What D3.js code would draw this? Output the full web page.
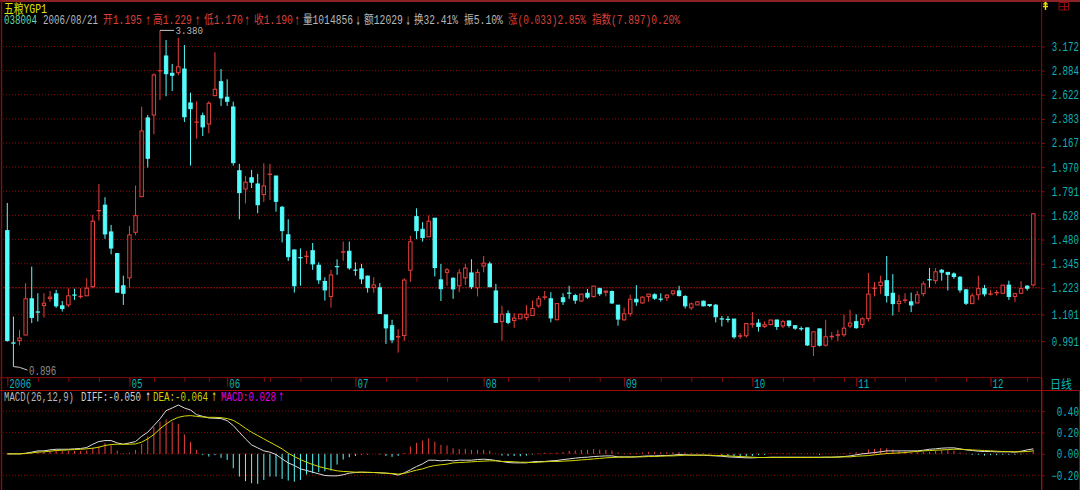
<!DOCTYPE html>
<html>
<head>
<meta charset="utf-8">
<title>五粮YGP1</title>
<script src="https://cdn.jsdelivr.net/npm/d3@7"></script>
<style>
    html, body { margin: 0; padding: 0; background: #000; overflow: hidden; }
    svg { display: block; }
    text { font-family: "Liberation Mono", "Noto Sans CJK SC", monospace; }
</style>
</head>
<body>
<script>
// 日线 open / high / low / close
const openPrice = [
    1.533,0.984,0.993,1.015,1.171,1.112,1.140,1.172,1.194,1.139,
    1.143,1.189,1.181,1.185,1.229,1.658,1.695,1.525,1.400,1.233,
    1.272,1.523,1.753,2.392,2.420,2.881,3.055,2.853,2.860,2.902,
    2.538,2.352,2.413,2.335,2.612,2.760,2.596,2.498,1.942,1.807,
    1.889,1.843,1.767,1.914,1.902,1.681,1.508,1.420,1.378,1.384,
    1.416,1.337,1.254,1.182,1.330,1.408,1.413,1.312,1.318,1.281,
    1.224,1.223,1.099,1.053,1.007,1.013,1.311,1.620,1.541,1.496,
    1.610,1.262,1.300,1.270,1.233,1.272,1.297,1.223,1.333,1.344,
    1.208,1.070,1.104,1.075,1.082,1.088,1.096,1.139,1.178,1.171,
    1.078,1.176,1.198,1.186,1.161,1.197,1.182,1.219,1.202,1.205,
    1.142,1.078,1.104,1.169,1.152,1.182,1.190,1.170,1.176,1.195,
    1.208,1.182,1.130,1.143,1.160,1.145,1.142,1.082,1.080,1.081,
    1.010,1.012,1.059,1.064,1.050,1.058,1.077,1.052,1.073,1.053,
    1.041,1.044,0.970,1.040,0.975,1.008,1.014,1.016,1.052,1.070,
    1.058,1.083,1.220,1.234,1.258,1.197,1.149,1.164,1.157,1.152,
    1.195,1.263,1.258,1.311,1.300,1.292,1.275,1.213,1.149,1.190,
    1.219,1.192,1.199,1.197,1.236,1.182,1.197,1.231,1.237
];
const highPrice = [
    1.710,1.092,1.036,1.246,1.330,1.197,1.197,1.208,1.213,1.161,
    1.221,1.219,1.221,1.270,1.630,1.843,1.749,1.568,1.400,1.283,
    1.562,1.831,2.501,2.420,2.853,3.380,3.254,2.961,3.283,3.191,
    2.643,2.555,2.443,2.555,3.100,2.902,2.786,2.551,1.995,1.902,
    1.948,1.918,2.000,1.995,1.902,1.690,1.603,1.424,1.429,1.415,
    1.460,1.353,1.275,1.313,1.369,1.468,1.468,1.353,1.344,1.283,
    1.275,1.246,1.099,1.078,1.039,1.270,1.502,1.674,1.585,1.628,
    1.610,1.344,1.322,1.275,1.317,1.344,1.369,1.317,1.387,1.356,
    1.242,1.139,1.118,1.107,1.104,1.142,1.163,1.185,1.208,1.202,
    1.151,1.197,1.233,1.194,1.195,1.217,1.233,1.224,1.210,1.210,
    1.143,1.131,1.190,1.236,1.182,1.194,1.197,1.197,1.193,1.210,
    1.233,1.188,1.154,1.160,1.163,1.147,1.147,1.094,1.094,1.081,
    1.023,1.065,1.111,1.081,1.071,1.078,1.078,1.078,1.074,1.053,
    1.050,1.045,1.029,1.040,1.078,1.027,1.036,1.101,1.121,1.101,
    1.088,1.297,1.251,1.283,1.387,1.291,1.190,1.197,1.200,1.208,
    1.254,1.323,1.322,1.317,1.300,1.300,1.281,1.217,1.197,1.283,
    1.237,1.213,1.213,1.237,1.258,1.197,1.256,1.236,1.640
];
const lowPrice = [
    0.989,0.896,0.974,1.014,1.064,1.071,1.088,1.158,1.130,1.114,
    1.133,1.166,1.172,1.185,1.221,1.595,1.484,1.396,1.202,1.143,
    1.223,1.505,1.750,1.966,2.243,2.568,2.606,2.660,2.831,2.355,
    1.982,2.204,2.228,2.252,2.612,2.508,2.508,1.982,1.603,1.707,
    1.814,1.642,1.716,1.730,1.652,1.463,1.360,1.200,1.233,1.344,
    1.313,1.242,1.163,1.131,1.287,1.360,1.313,1.283,1.242,1.200,
    1.200,1.104,0.980,0.983,0.947,0.992,1.252,1.482,1.468,1.496,
    1.279,1.161,1.233,1.171,1.202,1.237,1.217,1.182,1.300,1.228,
    1.067,0.992,1.059,1.044,1.082,1.075,1.095,1.130,1.166,1.067,
    1.077,1.143,1.171,1.148,1.157,1.171,1.176,1.185,1.182,1.148,
    1.053,1.073,1.092,1.139,1.149,1.158,1.166,1.158,1.161,1.186,
    1.182,1.127,1.121,1.142,1.137,1.134,1.067,1.050,1.067,1.000,
    1.000,1.005,1.045,1.029,1.044,1.054,1.036,1.043,1.045,1.036,
    1.032,0.972,0.934,0.970,0.970,0.996,0.991,1.008,1.043,1.040,
    1.044,1.071,1.182,1.193,1.154,1.096,1.111,1.151,1.111,1.151,
    1.182,1.224,1.242,1.258,1.210,1.267,1.200,1.143,1.148,1.166,
    1.182,1.186,1.186,1.195,1.166,1.157,1.194,1.210,1.229
];
const closePrice = [
    0.993,0.983,1.003,1.171,1.088,1.111,1.151,1.179,1.139,1.127,
    1.185,1.188,1.183,1.221,1.591,1.660,1.513,1.431,1.202,1.197,
    1.507,1.626,2.272,2.040,2.834,2.883,2.849,2.831,2.928,2.403,
    2.481,2.354,2.309,2.535,2.679,2.589,2.555,2.005,1.781,1.856,
    1.856,1.698,1.829,1.916,1.721,1.533,1.383,1.233,1.377,1.386,
    1.344,1.262,1.213,1.287,1.329,1.410,1.323,1.311,1.267,1.224,
    1.237,1.105,1.044,0.996,1.009,1.261,1.467,1.533,1.492,1.591,
    1.325,1.219,1.313,1.218,1.297,1.322,1.228,1.300,1.348,1.228,
    1.067,1.102,1.067,1.085,1.102,1.102,1.127,1.171,1.180,1.086,
    1.149,1.158,1.197,1.165,1.193,1.179,1.231,1.195,1.207,1.152,
    1.081,1.104,1.169,1.157,1.179,1.193,1.174,1.169,1.188,1.208,
    1.186,1.139,1.148,1.157,1.139,1.140,1.091,1.081,1.079,1.008,
    1.012,1.062,1.061,1.050,1.057,1.077,1.050,1.070,1.054,1.043,
    1.040,0.976,1.028,0.975,1.008,1.010,1.016,1.043,1.064,1.045,
    1.082,1.193,1.222,1.251,1.186,1.149,1.160,1.166,1.143,1.190,
    1.242,1.262,1.303,1.301,1.290,1.279,1.213,1.151,1.185,1.219,
    1.194,1.194,1.201,1.236,1.182,1.195,1.219,1.221,1.638
];

// MACD panel
const diffValues = [
    0,0,0,.006,.016,.028,.028,.037,.043,.043,
    .043,.047,.050,.059,.090,.115,.124,.124,.102,.090,
    .102,.115,.164,.202,.264,.326,.403,.428,.456,.428,
    .409,.366,.350,.335,.332,.329,.310,.264,.202,.140,
    .084,.056,.028,.016,-.006,-.047,-.084,-.109,-.140,-.155,
    -.171,-.186,-.202,-.205,-.205,-.195,-.180,-.174,-.171,-.174,
    -.174,-.177,-.180,-.186,-.198,-.177,-.149,-.118,-.093,-.059,
    -.059,-.065,-.059,-.065,-.059,-.059,-.059,-.053,-.050,-.053,
    -.062,-.071,-.081,-.084,-.084,-.084,-.074,-.071,-.071,-.065,
    -.062,-.053,-.047,-.040,-.034,-.031,-.025,-.022,-.019,-.019,
    -.028,-.028,-.028,-.028,-.022,-.019,-.019,-.016,-.016,-.012,
    -.006,-.009,-.012,-.012,-.012,-.016,-.019,-.022,-.028,-.031,
    -.034,-.037,-.037,-.034,-.034,-.031,-.031,-.031,-.031,-.031,
    -.031,-.031,-.031,-.031,-.031,-.031,-.028,-.025,-.019,-.009,
    0,.006,.012,.019,.028,.028,.028,.028,.028,.028,
    .034,.043,.047,.053,.056,.056,.047,.037,.031,.025,
    .022,.022,.019,.019,.019,.016,.025,.037,.047
];
const deaValues = [
    0,0,0,.003,.009,.016,.019,.025,.031,.034,
    .037,.040,.043,.047,.053,.062,.078,.087,.090,.090,
    .090,.093,.109,.140,.180,.233,.279,.316,.341,.353,
    .357,.350,.344,.341,.341,.338,.329,.313,.279,.239,
    .202,.171,.140,.109,.078,.047,.006,-.025,-.053,-.078,
    -.099,-.118,-.133,-.146,-.158,-.164,-.167,-.171,-.171,-.171,
    -.174,-.177,-.180,-.183,-.189,-.183,-.167,-.152,-.140,-.121,
    -.109,-.102,-.096,-.084,-.081,-.078,-.074,-.071,-.068,-.065,
    -.065,-.071,-.071,-.074,-.078,-.078,-.081,-.078,-.074,-.071,
    -.071,-.068,-.065,-.062,-.056,-.053,-.047,-.043,-.037,-.034,
    -.031,-.031,-.031,-.028,-.028,-.025,-.025,-.022,-.019,-.019,
    -.016,-.012,-.012,-.012,-.012,-.012,-.016,-.016,-.019,-.022,
    -.025,-.028,-.031,-.034,-.034,-.034,-.034,-.034,-.034,-.034,
    -.034,-.034,-.034,-.034,-.031,-.031,-.031,-.028,-.028,-.022,
    -.019,-.016,-.009,-.003,.003,.006,.009,.012,.019,.022,
    .028,.031,.034,.037,.040,.043,.043,.040,.037,.034,
    .031,.028,.025,.022,.022,.019,.019,.022,.028
];
const macdValues = [
    0,0,0,.006,.009,.022,.022,.025,.028,.028,
    .028,.028,.028,.031,.056,.069,.100,.081,.031,.006,
    .012,.037,.093,.162,.249,.302,.321,.296,.280,.181,
    .112,.037,-.009,-.025,-.012,-.037,-.056,-.134,-.212,-.255,
    -.274,-.280,-.243,-.212,-.212,-.234,-.249,-.259,-.243,-.193,
    -.181,-.171,-.162,-.156,-.100,-.053,-.031,-.019,-.006,-.006,
    0,-.006,-.019,-.028,-.019,.009,.069,.103,.125,.146,
    .115,.084,.078,.053,.044,.047,.037,.037,.037,.031,
    .003,-.016,-.019,-.019,-.022,-.016,-.006,.006,.012,.009,
    .012,.016,.028,.031,.037,.037,.044,.040,.037,.031,
    .012,.006,.009,.009,.012,.019,.019,.016,.016,.016,
    .016,.012,.009,.006,.006,.006,.003,-.009,-.019,-.022,
    -.025,-.025,-.019,-.012,-.009,.006,.006,.006,.006,.006,
    .006,.006,.006,-.009,.003,.003,.003,.006,.009,.016,
    .012,.040,.047,.053,.053,.040,.031,.025,.016,.019,
    .019,.019,.031,.037,.037,.031,.012,-.003,-.009,-.009,
    -.016,-.012,-.012,-.009,-.009,-.009,-.006,-.003,.040
];

// axis ticks and labels
const priceTicks = [3.172,2.884,2.622,2.383,2.167,1.970,1.791,1.628,1.480,1.345,1.223,1.101,0.991];
const basePrice = 1.223;
const macdTicks = [0.40,0.20,0.00,-0.20];
const monthTicks = [0,5,10,15,20,24,29,33,36,42,43,48,53,57,62,67,72,78,82,87,92,97,101,102,107,112,117,122,127,132,137,139,142,147,152,157,161,167];
const labelTicks = [0,20,36,57,78,101,122,139,161];
const dateLabels = ["2006","05","06","07","08","09","10","11","12"];

const width = 1080;
const height = 490;
const right = 1041.7;
const up = "#e8403c";
const down = "#54fcfc";
const frame = "#8c0c0c";
const axisText = "#0fb4b8";

const candles = openPrice.map((o, i) => ({
    i: i, open: o, high: highPrice[i], low: lowPrice[i], close: closePrice[i]
}));

const svg = d3.select("body").append("svg")
    .attr("width", width)
    .attr("height", height)
    .attr("viewBox", [0, 0, width, height]);

const x = d3.scaleLinear().domain([0, candles.length - 1]).range([7.3, 1033.3]);
const yPrice = d3.scaleLog().domain([0.896, 3.38]).range([366.6, 30.4]);
const yMacd = d3.scaleLinear().domain([-0.2, 0.4]).range([475.3, 411]);

// squeeze a text sideways to the width the narrow terminal font had
function fit(node, px, py, w) {
    const t = d3.select(node);
    const natural = node.getComputedTextLength();
    t.attr("x", 0).attr("y", 0).attr("dy", null)
        .attr("text-anchor", "start")
        .attr("transform", `translate(${px},${py}) scale(${w / natural},1)`);
}

function put(px, py, str, color, w, size) {
    const t = svg.append("text")
        .attr("fill", color)
        .attr("font-size", size || 12)
        .text(str);
    fit(t.node(), px, py, w);
    return t;
}

// the tall thin arrows after each header value
function arrow(px, py, str, color) {
    const t = svg.append("text")
        .attr("fill", color)
        .attr("font-size", 12)
        .style("font-family", "'DejaVu Sans'")
        .text(str);
    fit(t.node(), px, py, 5);
}

// frame
svg.append("rect").attr("width", width).attr("height", height).attr("fill", "#000");
svg.append("line").attr("x1", 0).attr("x2", width).attr("y1", 1).attr("y2", 1)
    .attr("stroke", "#8a2226").attr("stroke-width", 2);
svg.append("line").attr("x1", 1.5).attr("x2", 1.5).attr("y1", 0).attr("y2", height)
    .attr("stroke", frame).attr("stroke-width", 1.4);
svg.append("line").attr("x1", 0).attr("x2", right).attr("y1", 377.7).attr("y2", 377.7)
    .attr("stroke", frame);
svg.append("line").attr("x1", 0).attr("x2", width).attr("y1", 390.5).attr("y2", 390.5)
    .attr("stroke", "#a00c0c");
svg.append("line").attr("x1", 1079.5).attr("x2", 1079.5).attr("y1", 390).attr("y2", height)
    .attr("stroke", frame);

// grid
svg.append("g").selectAll("line")
    .data(priceTicks)
    .enter().append("line")
    .attr("x1", 3)
    .attr("x2", right)
    .attr("y1", d => yPrice(d))
    .attr("y2", d => yPrice(d))
    .attr("stroke", d => d === basePrice ? "#a01010" : "#8c0808")
    .attr("stroke-dasharray", d => d === basePrice ? "2 1" : "1 2");
svg.append("g").selectAll("line")
    .data(macdTicks)
    .enter().append("line")
    .attr("x1", 3)
    .attr("x2", right)
    .attr("y1", d => yMacd(d))
    .attr("y2", d => yMacd(d))
    .attr("stroke", "#8c0808")
    .attr("stroke-dasharray", "1 2");

// price axis
const priceAxis = svg.append("g")
    .attr("transform", `translate(${right},0)`)
    .call(d3.axisRight(yPrice).tickValues(priceTicks).tickFormat(d3.format(".3f")).tickSize(3));
priceAxis.attr("font-family", null);
priceAxis.select(".domain").attr("d", "M0,0V378").attr("stroke", frame);
priceAxis.selectAll(".tick line").attr("stroke", frame);
priceAxis.selectAll(".tick text")
    .attr("fill", axisText)
    .attr("font-size", 12)
    .each(function() { fit(this, 10, 4, 27.2); });

// macd axis
const macdAxis = svg.append("g")
    .attr("transform", `translate(${right},0)`)
    .call(d3.axisRight(yMacd).tickValues(macdTicks).tickFormat(d3.format(".2f")).tickSize(3));
macdAxis.attr("font-family", null);
macdAxis.select(".domain").attr("d", "M0,378V490").attr("stroke", "#a00c0c").attr("stroke-width", 1.4);
macdAxis.selectAll(".tick line").attr("stroke", frame);
macdAxis.selectAll(".tick text")
    .attr("fill", axisText)
    .attr("font-size", 12)
    .each(function(d) { fit(this, d < 0 ? 9.5 : 15, 4, d < 0 ? 27.8 : 22.3); });

// date axis
const monthAxis = svg.append("g")
    .attr("transform", "translate(0,377.7)")
    .call(d3.axisBottom(x).tickValues(monthTicks).tickFormat("").tickSize(4));
monthAxis.select(".domain").remove();
monthAxis.selectAll(".tick line").attr("stroke", frame);

const dateAxis = svg.append("g")
    .attr("transform", "translate(0,377.7)")
    .call(d3.axisBottom(x).tickValues(labelTicks).tickFormat((d, i) => dateLabels[i]).tickSize(9));
dateAxis.attr("font-family", null);
dateAxis.select(".domain").remove();
dateAxis.selectAll(".tick line").attr("stroke", frame);
dateAxis.selectAll(".tick text")
    .attr("fill", axisText)
    .attr("font-size", 12)
    .each(function(d, i) { fit(this, 1.5, 10.3, dateLabels[i].length * 5.5); });

put(1050, 389, "日线", axisText, 22, 12);

// candles
const candle = svg.append("g").selectAll("g")
    .data(candles)
    .enter().append("g");

candle.append("line")
    .attr("x1", d => x(d.i))
    .attr("x2", d => x(d.i))
    .attr("y1", d => yPrice(d.high))
    .attr("y2", d => yPrice(d.low))
    .attr("stroke", d => d.close >= d.open ? up : down);

candle.append("rect")
    .attr("x", d => x(d.i) - 1.7)
    .attr("width", 3.4)
    .attr("y", d => yPrice(Math.max(d.open, d.close)))
    .attr("height", d => Math.abs(yPrice(d.open) - yPrice(d.close)))
    .attr("fill", d => d.close >= d.open ? "#000" : down)
    .attr("stroke", d => d.close >= d.open ? up : down)
    .attr("stroke-width", 1);

// hi / lo markers
const hiCandle = candles[d3.greatestIndex(highPrice)];
const loCandle = candles[d3.leastIndex(lowPrice)];
const hiY = yPrice(hiCandle.high);
const loY = yPrice(loCandle.low);
const marker = d3.line();
svg.append("path")
    .attr("d", marker([[x(hiCandle.i), hiY], [x(hiCandle.i) + 14, hiY]]))
    .attr("fill", "none").attr("stroke", "#c8c8c8");
svg.append("path")
    .attr("d", marker([[x(loCandle.i), loY], [x(loCandle.i) + 6, loY + 0.7], [x(loCandle.i) + 14, loY + 3.5]]))
    .attr("fill", "none").attr("stroke", "#c8c8c8");
put(x(hiCandle.i) + 15.5, hiY + 4, d3.format(".3f")(hiCandle.high), "#b4b4b4", 27.5, 11);
put(x(loCandle.i) + 15.5, loY + 8, d3.format(".3f")(loCandle.low), "#8c8c8c", 27.5);

// macd bars and lines
svg.append("g").selectAll("line")
    .data(macdValues)
    .enter().append("line")
    .attr("x1", (d, i) => x(i))
    .attr("x2", (d, i) => x(i))
    .attr("y1", yMacd(0))
    .attr("y2", d => yMacd(d))
    .attr("stroke", d => d >= 0 ? up : down);

const macdLine = d3.line()
    .x((d, i) => x(i))
    .y(d => yMacd(d));
svg.append("path").attr("d", macdLine(diffValues))
    .attr("fill", "none").attr("stroke", "#dcdcdc");
svg.append("path").attr("d", macdLine(deaValues))
    .attr("fill", "none").attr("stroke", "#d8d800");

// header text
const grey = "#b8b8b8";
const red = "#d8403c";
put(4, 12.5, "五粮YGP1", "#e4e400", 43, 13);
put(4, 24, "038004", "#6cd8a8", 33);
put(43, 24, "2006/08/21", grey, 55);
put(103, 24, "开1.195", red, 39);
arrow(145.5, 24.5, "↑", red);
put(153, 24, "高1.229", red, 39);
arrow(195, 24.5, "↑", red);
put(204, 24, "低1.170", red, 39);
arrow(244.5, 24.5, "↑", red);
put(254, 24, "收1.190", red, 39);
arrow(294.5, 24.5, "↑", red);
put(303, 24, "量1014856", grey, 50);
arrow(355.5, 24.5, "↓", grey);
put(364, 24, "额12029", grey, 39);
arrow(405.5, 24.5, "↓", grey);
put(414, 24, "换32.41%", grey, 44);
put(464, 24, "振5.10%", grey, 39);
put(508, 24, "涨(0.033)2.85%", red, 78);
put(592, 24, "指数(7.897)0.20%", red, 88);

put(4, 400.5, "MACD(26,12,9)", grey, 70);
put(81, 400.5, "DIFF:-0.050", "#d0d0d0", 60);
arrow(145.5, 401, "↑", "#e8e8e8");
put(153, 400.5, "DEA:-0.064", "#d0d000", 55);
arrow(211.5, 401, "↑", "#e0e000");
put(221, 400.5, "MACD:0.028", "#e000e0", 55);
arrow(278.5, 401, "↑", "#e000e0");

// top right icons
svg.append("path")
    .attr("d", "M1045.5,2.5V10M1043,6.5H1048M1043.5,4.5L1045.5,2.5L1047.5,4.5")
    .attr("fill", "none").attr("stroke", "#e8e000").attr("stroke-width", 1.4);
svg.append("path")
    .attr("d", "M1059,2.5H1068.5V10H1059ZM1059,6.5H1068.5M1064.5,2.5V10")
    .attr("fill", "none").attr("stroke", "#8c0c0c");
</script>
</body>
</html>
